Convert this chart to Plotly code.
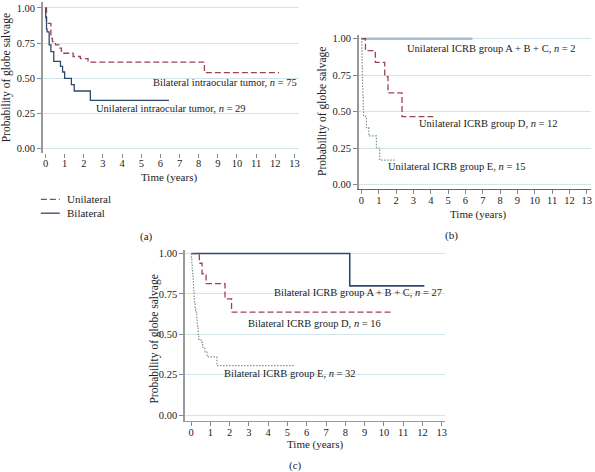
import plotly.graph_objects as go

W, H = 595, 472

# ---------------- data ----------------
# Panel (a)
a_uni_t = [0, 0.05, 0.14, 0.28, 0.36, 0.52, 0.70, 0.83, 1.44, 1.82, 2.22, 8.3, 12.2]
a_uni_s = [1.0, 0.896, 0.89, 0.784, 0.76, 0.737, 0.714, 0.678, 0.655, 0.64, 0.615, 0.541, 0.541]
a_bil_t = [0, 0.01, 0.05, 0.08, 0.19, 0.28, 0.43, 0.78, 0.89, 1.0, 1.35, 1.5, 2.34, 6.45]
a_bil_s = [1.0, 0.93, 0.85, 0.83, 0.737, 0.69, 0.62, 0.585, 0.545, 0.5, 0.455, 0.41, 0.344, 0.344]

# Panel (b)
b_abc_t = [0, 6.4]
b_abc_s = [1.0, 1.0]
b_d_t = [0, 0.23, 0.8, 1.34, 1.53, 2.34, 4.14]
b_d_s = [1.0, 0.918, 0.837, 0.74, 0.628, 0.465, 0.465]
b_e_t = [0, 0.02, 0.03, 0.04, 0.05, 0.06, 0.08, 0.10, 0.12, 0.29, 0.42, 0.86, 1.05, 2.0]
b_e_s = [1.0, 0.933, 0.867, 0.8, 0.733, 0.667, 0.6, 0.533, 0.467, 0.39, 0.333, 0.25, 0.167, 0.167]

# Panel (c)
c_abc_t = [0, 8.23, 12.1]
c_abc_s = [1.0, 0.80, 0.80]
c_d_t = [0, 0.43, 0.57, 0.78, 1.76, 2.1, 10.35]
c_d_s = [1.0, 0.94, 0.875, 0.814, 0.72, 0.638, 0.638]
c_e_t = [0, 0.02, 0.04, 0.06, 0.08, 0.10, 0.12, 0.13, 0.14, 0.16, 0.18, 0.21, 0.24, 0.27,
         0.30, 0.32, 0.34, 0.37, 0.40, 0.52, 0.60, 0.72, 0.83, 1.34, 5.37]
c_e_s = [1.0, 0.969, 0.938, 0.906, 0.875, 0.844, 0.812, 0.781, 0.757, 0.719, 0.688, 0.656,
         0.65, 0.625, 0.594, 0.562, 0.55, 0.5, 0.469, 0.45, 0.42, 0.39, 0.36, 0.307, 0.307]

y_ticks = [0, 0.25, 0.5, 0.75, 1.0]
y_tick_labels = ["0.00", "0.25", "0.50", "0.75", "1.00"]
x_ticks = list(range(0, 14))
x_tick_labels = [str(v) for v in x_ticks]
legend_names = ["Unilateral", "Bilateral"]

RED = "#9a4452"
BLUE = "#2f4a6d"
LIGHTBLUE = "#a9bdd3"
GREEN = "#7f9a80"
GRID = "#d3e3ea"
FONT = "Liberation Serif"
TXT = "#222"
DASH = "6px,3px"
DOT = "1.5px,1.5px"


def px(x):
    return x / W


def py(y):
    return 1 - y / H


fig = go.Figure()

# panel a traces
fig.add_trace(go.Scatter(x=a_uni_t, y=a_uni_s, mode="lines", line=dict(shape="hv", color=RED, width=1.3, dash=DASH),
                         name=legend_names[0], xaxis="x", yaxis="y"))
fig.add_trace(go.Scatter(x=a_bil_t, y=a_bil_s, mode="lines", line=dict(shape="hv", color=BLUE, width=1.3),
                         name=legend_names[1], xaxis="x", yaxis="y"))
# panel b
fig.add_trace(go.Scatter(x=b_abc_t, y=b_abc_s, mode="lines", line=dict(shape="hv", color=LIGHTBLUE, width=2.5),
                         xaxis="x2", yaxis="y2"))
fig.add_trace(go.Scatter(x=b_d_t, y=b_d_s, mode="lines", line=dict(shape="hv", color=RED, width=1.3, dash=DASH),
                         xaxis="x2", yaxis="y2"))
fig.add_trace(go.Scatter(x=b_e_t, y=b_e_s, mode="lines", line=dict(shape="hv", color=GREEN, width=1.2, dash=DOT),
                         xaxis="x2", yaxis="y2"))
# panel c
fig.add_trace(go.Scatter(x=c_abc_t, y=c_abc_s, mode="lines", line=dict(shape="hv", color=BLUE, width=1.6),
                         xaxis="x3", yaxis="y3"))
fig.add_trace(go.Scatter(x=c_d_t, y=c_d_s, mode="lines", line=dict(shape="hv", color=RED, width=1.3, dash=DASH),
                         xaxis="x3", yaxis="y3"))
fig.add_trace(go.Scatter(x=c_e_t, y=c_e_s, mode="lines", line=dict(shape="hv", color=GREEN, width=1.2, dash=DOT),
                         xaxis="x3", yaxis="y3"))


def xax(domain, rng, linecolor, showline=True):
    return dict(domain=domain, range=rng, tickvals=x_ticks, ticktext=x_tick_labels, showgrid=False,
                zeroline=False, showline=showline, linecolor=linecolor, linewidth=1.2, ticks="outside",
                ticklen=4, tickcolor="#888", ticklabelstandoff=-3,
                tickfont=dict(family=FONT, size=10.5, color=TXT))


def yax(domain, rng):
    return dict(domain=domain, range=rng, tickvals=y_ticks, ticktext=y_tick_labels, showgrid=True,
                gridcolor=GRID, gridwidth=1, zeroline=False, showline=True, linecolor="#999", linewidth=1.5,
                ticks="outside", ticklen=4, tickcolor="#888", tickfont=dict(family=FONT, size=10.5, color=TXT))


layout = dict(
    width=W, height=H, margin=dict(l=0, r=0, t=0, b=0),
    paper_bgcolor="white", plot_bgcolor="white",
    font=dict(family=FONT, size=10.5, color=TXT),
    xaxis=xax([px(43), px(300)], [-0.14, 13.24], "#e6e6e6", showline=False) | dict(anchor="y"),
    yaxis=yax([py(152), py(0)], [-0.028, 1.042]) | dict(anchor="x"),
    xaxis2=xax([px(360), px(593)], [-0.155, 13.24], "#666666") | dict(anchor="y2"),
    yaxis2=yax([py(189), py(33)], [-0.034, 1.027]) | dict(anchor="x2"),
    xaxis3=xax([px(185.7), px(446.7)], [-0.31, 13.18], "#999999") | dict(anchor="y3"),
    yaxis3=yax([py(422.7), py(250)], [-0.037, 1.0227]) | dict(anchor="x3"),
    showlegend=False,
)
fig.update_layout(**layout)

ann = []


def text(x, y, s, size=10.5, angle=0, anchor="left"):
    ann.append(dict(x=px(x), y=py(y), xref="paper", yref="paper", text=s, showarrow=False,
                    xanchor=anchor, yanchor="middle", textangle=angle,
                    font=dict(family=FONT, size=size, color=TXT)))


# panel a
text(152, 81, "Bilateral intraocular tumor, <i>n</i> = 75")
text(94, 107, "Unilateral intraocular tumor, <i>n</i> = 29")
text(6, 76, "Probability of globe salvage", size=11.5, angle=-90, anchor="center")
text(170, 177, "Time (years)", size=11, anchor="center")
text(147, 237, "(a)", size=11, anchor="center")
# legend (a), drawn as key lines + labels
shapes = [
    dict(type="line", xref="paper", yref="paper", x0=px(41), x1=px(60), y0=py(199), y1=py(199),
         line=dict(color=RED, width=1.3, dash=DASH)),
    dict(type="line", xref="paper", yref="paper", x0=px(41), x1=px(60), y0=py(213), y1=py(213),
         line=dict(color=BLUE, width=1.3)),
]
text(65, 199, legend_names[0], size=11)
text(65, 213, legend_names[1], size=11)
# panel b
text(406, 47, "Unilateral ICRB group A + B + C, <i>n</i> = 2")
text(418, 123, "Unilateral ICRB group D, <i>n</i> = 12")
text(387, 166, "Unilateral ICRB group E, <i>n</i> = 15")
text(323, 110, "Probability of globe salvage", size=11.5, angle=-90, anchor="center")
text(480, 214, "Time (years)", size=11, anchor="center")
text(453, 235, "(b)", size=11, anchor="center")
# panel c
text(273, 293, "Bilateral ICRB group A + B + C, <i>n</i> = 27")
text(247, 324, "Bilateral ICRB group D, <i>n</i> = 16")
text(223, 375, "Bilateral ICRB group E, <i>n</i> = 32")
text(155, 340, "Probability of globe salvage", size=11.5, angle=-90, anchor="center")
text(316, 446, "Time (years)", size=11, anchor="center")
text(296, 467, "(c)", size=11, anchor="center")

fig.update_layout(annotations=ann, shapes=shapes)
fig.write_html("out.html", config={"displayModeBar": False},
               post_script="document.body.style.margin='0px';")
